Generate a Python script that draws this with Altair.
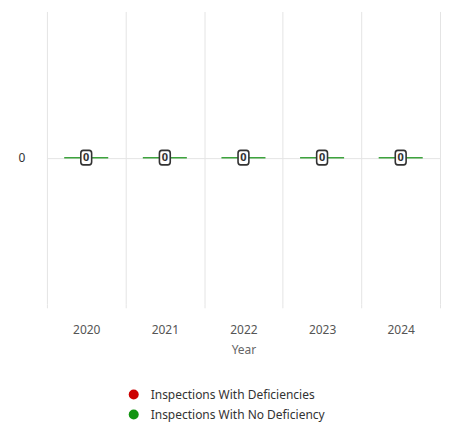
import altair as alt
import pandas as pd

years = ["2020", "2021", "2022", "2023", "2024"]
with_deficiencies = [0, 0, 0, 0, 0]
no_deficiency = [0, 0, 0, 0, 0]
series_names = ["Inspections With Deficiencies", "Inspections With No Deficiency"]
series_colors = ["#cc0000", "#129412"]
line_colors = ["#cc0000", "#3da33d"]

rows = []
for y, v in zip(years, with_deficiencies):
    rows.append({"Year": y, "Series": series_names[0], "Value": v})
for y, v in zip(years, no_deficiency):
    rows.append({"Year": y, "Series": series_names[1], "Value": v})
df = pd.DataFrame(rows)

totals = pd.DataFrame({"Year": years,
                       "Total": [a + b for a, b in zip(with_deficiencies, no_deficiency)]})

FONT = "Segoe UI, Noto Sans, sans-serif"

x_enc = alt.X("Year:N", sort=years, title="Year",
              scale=alt.Scale(paddingInner=0, paddingOuter=0),
              axis=alt.Axis(labelAngle=0, tickBand="extent", grid=True, gridColor="#e4e4e4",
                            domain=False, ticks=True, tickSize=4, tickColor="#e4e4e4",
                            labelPadding=17, labelFontSize=12, labelColor="#555555",
                            labelFont=FONT, titleFont=FONT, titleFontSize=12,
                            titleFontWeight="normal", titleColor="#666666", titlePadding=9))

y_scale = alt.Scale(domain=[-1, 1])

bars = alt.Chart(df).mark_bar(width=alt.RelativeBandSize(0.56), strokeWidth=1.5, opacity=1).encode(
    x=x_enc,
    y=alt.Y("Value:Q", stack="zero", scale=y_scale, title=None,
            axis=alt.Axis(values=[0], format="d", grid=True, gridColor="#e4e4e4", domain=False,
                          ticks=False, labelPadding=22, labelFontSize=12, labelColor="#333333",
                          labelFont=FONT)),
    color=alt.Color("Series:N", scale=alt.Scale(domain=series_names, range=series_colors),
                    legend=alt.Legend(title=None, orient="none", legendX=81, legendY=378,
                                      symbolType="circle", symbolSize=100, symbolStrokeWidth=0,
                                      labelFontSize=12, labelColor="#333333", labelFont=FONT,
                                      labelLimit=400, rowPadding=8, labelOffset=11)),
    stroke=alt.Stroke("Series:N", scale=alt.Scale(domain=series_names, range=line_colors),
                      legend=None),
    strokeOpacity=alt.condition(alt.datum.Series == series_names[1], alt.value(1), alt.value(0)),
    order=alt.Order("Series:N"),
)

box_shape = ("M-0.4,-1 L0.4,-1 Q0.75,-1 0.75,-0.6 L0.75,0.6 Q0.75,1 0.4,1 "
             "L-0.4,1 Q-0.75,1 -0.75,0.6 L-0.75,-0.6 Q-0.75,-1 -0.4,-1 Z")

boxes = alt.Chart(totals).mark_point(shape=box_shape, size=210, filled=True, fill="white",
                                     stroke="#333333", strokeWidth=1.6, opacity=1).encode(
    x=alt.X("Year:N", sort=years),
    y=alt.Y("Total:Q", scale=y_scale),
)

labels = alt.Chart(totals).mark_text(fontSize=11, fontWeight="bold", color="#333333",
                                     font=FONT, baseline="middle").encode(
    x=alt.X("Year:N", sort=years),
    y=alt.Y("Total:Q", scale=y_scale),
    text=alt.Text("Total:Q", format="d"),
)

chart = alt.layer(bars, boxes, labels).properties(
    width=394, height=293,
    padding={"left": 39, "top": 3, "right": 5, "bottom": 120},
    autosize=alt.AutoSizeParams(type="none"),
    background="white",
).configure_view(stroke=None)

chart.save("out.html", embed_options={"renderer": "svg", "actions": False})
